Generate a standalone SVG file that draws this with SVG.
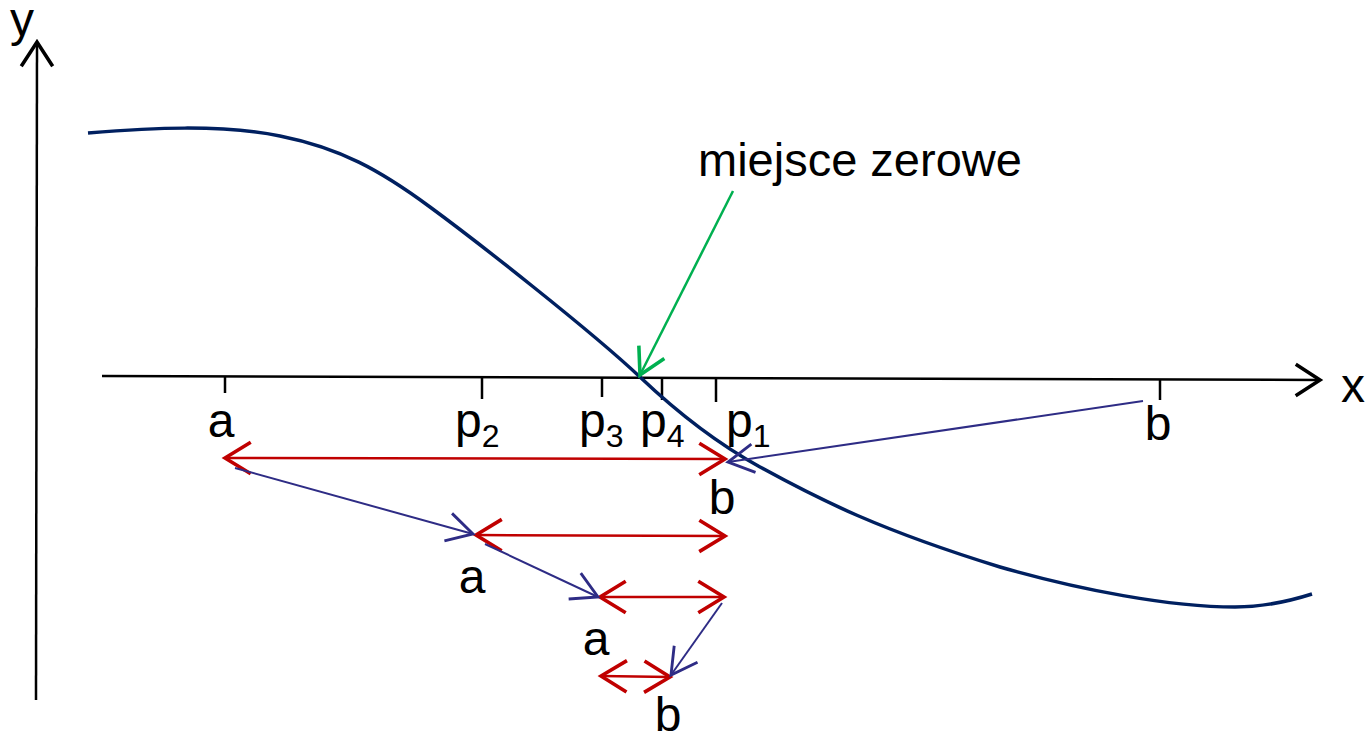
<svg xmlns="http://www.w3.org/2000/svg" width="1370" height="736" viewBox="0 0 1370 736">
<style>
.t{font-family:"Liberation Sans",Arial,sans-serif;font-size:48px;fill:#000}
.s{font-size:32px}
.ax{stroke:#000;stroke-width:2.5;fill:none}
.red{stroke:#C00000;stroke-width:2.5;fill:none}
.blue{stroke:#2E2C85;stroke-width:2;fill:none}
.green{stroke:#00B050;stroke-width:2.5;fill:none}
</style>
<defs>
<marker id="ak" markerUnits="userSpaceOnUse" markerWidth="40" markerHeight="40" refX="0" refY="0" viewBox="-20 -14 24 28" orient="auto"><path d="M-17,-11 L0,0 L-17,11" fill="none" stroke="#000" stroke-width="2.5"/></marker>
<marker id="ar" markerUnits="userSpaceOnUse" markerWidth="40" markerHeight="40" refX="0" refY="0" viewBox="-22 -14 26 28" orient="auto-start-reverse"><path d="M-18,-11 L0,0 L-18,11" fill="none" stroke="#C00000" stroke-width="2.5"/></marker>
<marker id="ab" markerUnits="userSpaceOnUse" markerWidth="40" markerHeight="40" refX="0" refY="0" viewBox="-22 -14 26 28" orient="auto"><path d="M-18,-10 L0,0 L-18,10" fill="none" stroke="#2E2C85" stroke-width="2"/></marker>
<marker id="ag" markerUnits="userSpaceOnUse" markerWidth="40" markerHeight="40" refX="0" refY="0" viewBox="-22 -14 26 28" orient="auto"><path d="M-18,-10 L0,0 L-18,10" fill="none" stroke="#00B050" stroke-width="2.5"/></marker>
</defs>
<g id="axes">
<line class="ax" x1="36" y1="700" x2="37" y2="42" marker-end="url(#ak)"/>
<line class="ax" x1="102" y1="376" x2="1320" y2="380" marker-end="url(#ak)"/>
<line class="ax" x1="225" y1="377" x2="225" y2="393"/>
<line class="ax" x1="482" y1="378" x2="482" y2="399"/>
<line class="ax" x1="602" y1="378" x2="602" y2="397"/>
<line class="ax" x1="662" y1="378" x2="662" y2="400"/>
<line class="ax" x1="716" y1="378" x2="716" y2="402"/>
<line class="ax" x1="1160" y1="380" x2="1160" y2="400"/>
<text class="t" x="10" y="36">y</text>
<text class="t" x="1341" y="402">x</text>
</g>
<g id="curve">
<path d="M88,133 C150,128 220,124 280,136 C340,148 380,170 430,207 C475,240 590,330 640,377 C680,415 720,445 760,467 C820,500 880,530 1000,567 C1080,590 1170,607 1235,607 C1265,607 1290,601 1312,594" fill="none" stroke="#002060" stroke-width="3.5"/>
</g>
<g id="labels">
<text class="t" x="221" y="437" text-anchor="middle">a</text>
<text class="t" x="455" y="437">p<tspan class="s" dy="10">2</tspan></text>
<text class="t" x="579" y="437">p<tspan class="s" dy="10">3</tspan></text>
<text class="t" x="640" y="437">p<tspan class="s" dy="10">4</tspan></text>
<text class="t" x="726" y="437">p<tspan class="s" dy="10">1</tspan></text>
<text class="t" x="1158" y="440" text-anchor="middle">b</text>
<text class="t" x="722" y="514" text-anchor="middle">b</text>
<text class="t" x="472" y="593" text-anchor="middle">a</text>
<text class="t" x="596" y="655" text-anchor="middle">a</text>
<text class="t" x="668" y="731" text-anchor="middle">b</text>
<text class="t" x="698" y="176" style="font-size:47px">miejsce zerowe</text>
</g>
<g id="connectors">
<line class="red" x1="225" y1="458" x2="725" y2="459" marker-start="url(#ar)" marker-end="url(#ar)"/>
<line class="red" x1="476" y1="535" x2="725" y2="536" marker-start="url(#ar)" marker-end="url(#ar)"/>
<line class="red" x1="600" y1="597" x2="724" y2="597" marker-start="url(#ar)" marker-end="url(#ar)"/>
<line class="red" x1="601" y1="676" x2="670" y2="677" marker-start="url(#ar)" marker-end="url(#ar)"/>
<line class="blue" x1="1143" y1="401" x2="728" y2="462" marker-end="url(#ab)"/>
<line class="blue" x1="235" y1="468" x2="473" y2="534" marker-end="url(#ab)"/>
<line class="blue" x1="485" y1="544" x2="598" y2="597" marker-end="url(#ab)"/>
<line class="blue" x1="722" y1="603" x2="671" y2="675" marker-end="url(#ab)"/>
<line class="green" x1="733" y1="191" x2="640" y2="375" marker-end="url(#ag)"/>
</g>
</svg>
